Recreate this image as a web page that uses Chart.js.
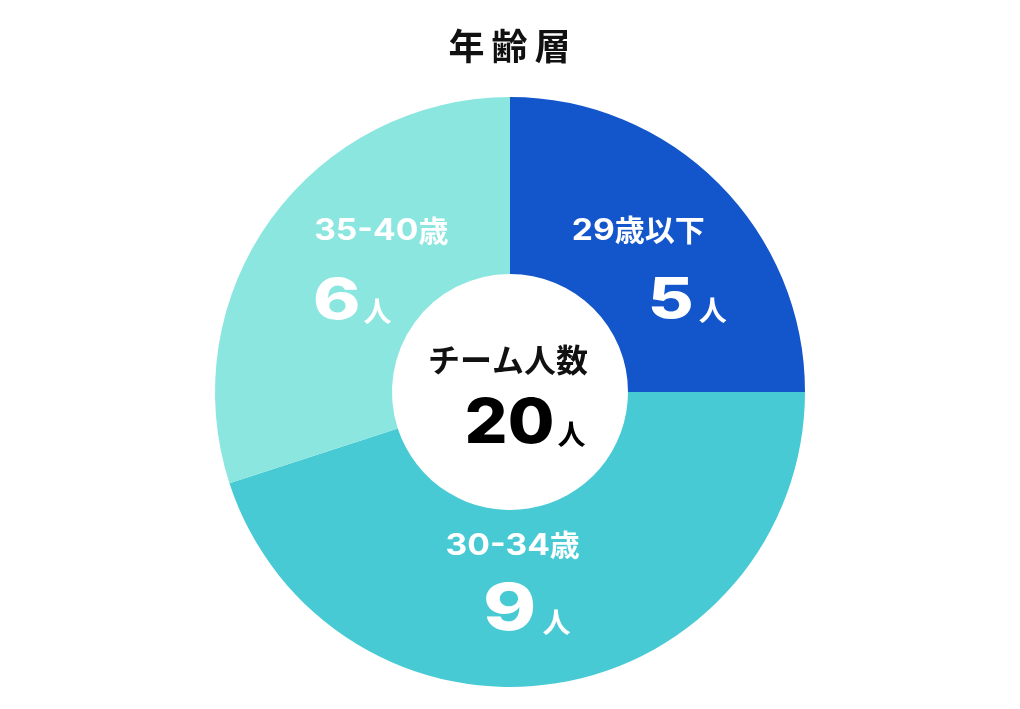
<!DOCTYPE html>
<html><head><meta charset="utf-8">
<script src="https://cdn.jsdelivr.net/npm/chart.js@4.4.1/dist/chart.umd.min.js"></script>
<style>
html,body{margin:0;padding:0;background:#fff;}
#wrap{width:1020px;height:709px;position:relative;}
</style></head>
<body><div id="wrap"><canvas id="c" width="1020" height="709"></canvas></div>
<script>
const title = '年齢層';
const categories = ['29歳以下', '30-34歳', '35-40歳'];
const counts = [5, 9, 6];
const unit = '人';
const centerLabel = 'チーム人数';
const colors = ['#1355CA', '#48CAD5', '#8CE6E0'];

const total = counts.reduce((a, b) => a + b, 0);
const numFont = "Inter, 'Noto Sans CJK JP', sans-serif";
const jpFont = "'Noto Sans CJK JP', sans-serif";

// label styling relative to the arc's mid-point anchor (style only)
const nameOffsets = [[-6, -28], [-27, -35], [25, -50]];
const valueOffsets = [[43, 40], [-13, 27], [-4, 18]];
const numSizes = [56, 64, 57];
const unitGaps = [5, 6, 3];

function drawValue(ctx, x, yCenter, num, numSize, unitSize, color, gap, sx) {
  const capH = numSize * 0.727;
  ctx.save();
  ctx.fillStyle = color;
  ctx.textBaseline = 'alphabetic';
  ctx.textAlign = 'left';
  ctx.font = `800 ${numSize}px ${numFont}`;
  const nw = ctx.measureText(String(num)).width * sx;
  ctx.font = `700 ${unitSize}px ${jpFont}`;
  const uw = ctx.measureText(unit).width;
  const w = nw + gap + uw;
  const x0 = x - w / 2;
  const base = yCenter + capH / 2;
  ctx.save();
  ctx.translate(x0, base);
  ctx.scale(sx, 1);
  ctx.font = `800 ${numSize}px ${numFont}`;
  ctx.fillText(String(num), 0, 0);
  ctx.restore();
  ctx.font = `700 ${unitSize}px ${jpFont}`;
  ctx.fillText(unit, x0 + nw + gap, base + unitSize * 0.1);
  ctx.restore();
}

function drawName(ctx, text, x, y) {
  // widen latin digits slightly, CJK unchanged
  const parts = text.match(/[0-9\-]+|[^0-9\-]+/g);
  const sx = 1.12;
  ctx.save();
  ctx.fillStyle = '#fff';
  ctx.textBaseline = 'middle';
  ctx.textAlign = 'left';
  const widths = parts.map(p => {
    const latin = /^[0-9\-]+$/.test(p);
    ctx.font = latin ? `700 30px ${numFont}` : `700 30px ${jpFont}`;
    return ctx.measureText(p).width * (latin ? sx : 1);
  });
  const tw = widths.reduce((a, b) => a + b, 0);
  let px = x - tw / 2;
  parts.forEach((p, i) => {
    const latin = /^[0-9\-]+$/.test(p);
    ctx.font = latin ? `700 30px ${numFont}` : `700 30px ${jpFont}`;
    ctx.save();
    ctx.translate(px, y);
    if (latin) ctx.scale(sx, 1);
    ctx.fillText(p, 0, latin ? 1 : 0);
    ctx.restore();
    px += widths[i];
  });
  ctx.restore();
}

const labelPlugin = {
  id: 'labels',
  afterDatasetsDraw(chart) {
    const ctx = chart.ctx;
    const meta = chart.getDatasetMeta(0);
    const cx = meta.data[0].x, cy = meta.data[0].y;
    // title
    ctx.save();
    ctx.fillStyle = '#111';
    ctx.font = `700 36px ${jpFont}`;
    ctx.textAlign = 'center';
    ctx.textBaseline = 'middle';
    try { ctx.letterSpacing = '7px'; } catch (e) {}
    ctx.fillText(title, cx + 3, 46);
    try { ctx.letterSpacing = '0px'; } catch (e) {}
    ctx.restore();

    meta.data.forEach((arc, i) => {
      const mid = (arc.startAngle + arc.endAngle) / 2;
      const r = 190;
      const ax = cx + Math.cos(mid) * r;
      const ay = cy + Math.sin(mid) * r;
      drawName(ctx, categories[i], ax + nameOffsets[i][0], ay + nameOffsets[i][1]);
      drawValue(ctx, ax + valueOffsets[i][0], ay + valueOffsets[i][1], counts[i], numSizes[i], 28, '#fff', unitGaps[i], 1.26);
    });

    // center text
    ctx.save();
    ctx.fillStyle = '#111';
    ctx.font = `700 32px ${jpFont}`;
    ctx.textAlign = 'center';
    ctx.textBaseline = 'middle';
    ctx.fillText(centerLabel, cx - 2, cy - 32);
    ctx.restore();
    drawValue(ctx, cx + 15, cy + 28, total, 62, 28, '#000', 3, 1.09);
  }
};

new Chart(document.getElementById('c'), {
  type: 'doughnut',
  data: {
    labels: categories,
    datasets: [{
      data: counts,
      backgroundColor: colors,
      borderWidth: 0,
      hoverOffset: 0
    }]
  },
  options: {
    responsive: false,
    animation: false,
    devicePixelRatio: 1,
    cutout: '40%',
    layout: { padding: { top: 97, bottom: 22, left: 0, right: 0 } },
    plugins: {
      legend: { display: false },
      tooltip: { enabled: false },
      title: { display: false }
    }
  },
  plugins: [labelPlugin]
});
</script>
</body></html>
